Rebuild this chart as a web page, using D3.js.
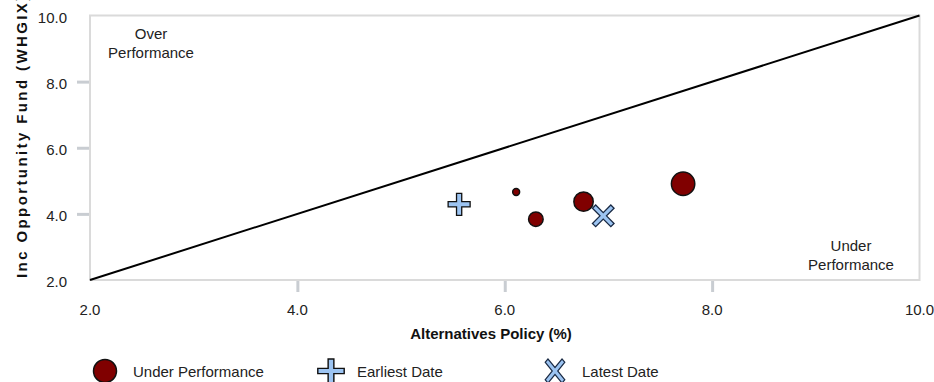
<!DOCTYPE html>
<html><head><meta charset="utf-8">
<script src="https://cdn.jsdelivr.net/npm/d3@7"></script>
<style>
html,body{margin:0;padding:0;background:#fff;}
svg{display:block;font-family:"Liberation Sans",Arial,sans-serif;}
</style></head>
<body><svg id="c" width="934" height="382"></svg>
<script>
const underX = [6.11, 6.30, 6.76, 7.72];
const underY = [4.66, 3.84, 4.37, 4.91];
const underSize = [12, 53, 94, 137];
const earliest = [5.56, 4.29];
const latest = [6.95, 3.94];
const xTicks = [2, 4, 6, 8, 10];
const yTicks = [2, 4, 6, 8, 10];
const xTitle = "Alternatives Policy (%)";
const yTitle = "Inc Opportunity Fund (WHGIX)";
const legendLabels = ["Under Performance", "Earliest Date", "Latest Date"];

const svg = d3.select("#c");
const x = d3.scaleLinear().domain([2, 10]).range([90, 919.5]);
const y = d3.scaleLinear().domain([2, 10]).range([280, 15.5]);
const r = d3.scaleSqrt().domain([0, 137]).range([0, 11.7]);
const FS = 15;

// plot frame
svg.append("rect").attr("x", 90).attr("y", 15.5).attr("width", 829.5).attr("height", 264.5)
  .attr("fill", "none").attr("stroke", "#dadada").attr("stroke-width", 2);

// axes
const fmt = d3.format(".1f");
const xa = svg.append("g").attr("transform", "translate(0,281)")
  .call(d3.axisBottom(x).tickValues(xTicks.slice(1, 4)).tickSize(11).tickFormat(""));
xa.select(".domain").remove();
xa.selectAll("line").attr("stroke", "#c9cdd2").attr("stroke-width", 3);
svg.append("g").selectAll("text").data(xTicks).join("text")
  .attr("x", d => x(d)).attr("y", 314.5).attr("text-anchor", "middle")
  .attr("font-size", FS).attr("fill", "#222").text(d => fmt(d));

const ya = svg.append("g").attr("transform", "translate(89,0)")
  .call(d3.axisLeft(y).tickValues(yTicks.slice(1, 4)).tickSize(12).tickFormat(""));
ya.select(".domain").remove();
ya.selectAll("line").attr("stroke", "#c9cdd2").attr("stroke-width", 3);
svg.append("g").selectAll("text").data(yTicks).join("text")
  .attr("x", 67).attr("y", d => y(d) + 7).attr("text-anchor", "end")
  .attr("font-size", FS).attr("fill", "#222").text(d => fmt(d));

// axis titles
svg.append("text").attr("x", 491).attr("y", 338.5).attr("text-anchor", "middle")
  .attr("font-size", FS).attr("font-weight", "bold").attr("fill", "#111").text(xTitle);
svg.append("text").attr("transform", "translate(27,278) rotate(-90)")
  .attr("text-anchor", "start").attr("font-size", FS).attr("font-weight", "bold")
  .attr("letter-spacing", 2.4).attr("fill", "#111").text(yTitle);

// diagonal
svg.append("line").attr("x1", x(2)).attr("y1", y(2)).attr("x2", x(10)).attr("y2", y(10))
  .attr("stroke", "#000").attr("stroke-width", 2);

// region labels
const lab = (tx, ty, lines) => {
  const t = svg.append("text").attr("text-anchor", "middle").attr("font-size", FS).attr("fill", "#222");
  lines.forEach((l, i) => t.append("tspan").attr("x", tx).attr("y", ty + i * 19.5).text(l));
};
lab(151, 38.5, ["Over", "Performance"]);
lab(851, 250.5, ["Under", "Performance"]);

// marker shapes
function crossPath(L, w) {
  return `M${-w},${-L}H${w}V${-w}H${L}V${w}H${w}V${L}H${-w}V${w}H${-L}V${-w}H${-w}Z`;
}
const blue = "#9cc4f2";

// points
svg.append("g").selectAll("circle").data(underX.map((d, i) => ({x: d, y: underY[i], s: underSize[i]})))
  .join("circle").attr("cx", d => x(d.x)).attr("cy", d => y(d.y)).attr("r", d => r(d.s))
  .attr("fill", "#800000").attr("stroke", "#111").attr("stroke-width", 1.5);

svg.append("path").attr("d", crossPath(11, 2.6))
  .attr("transform", `translate(${x(earliest[0])},${y(earliest[1])})`)
  .attr("fill", blue).attr("stroke", "#111").attr("stroke-width", 1.3);
svg.append("path").attr("d", crossPath(13, 2.3))
  .attr("transform", `translate(${x(latest[0])},${y(latest[1])}) rotate(45)`)
  .attr("fill", blue).attr("stroke", "#1a2a44").attr("stroke-width", 1.3);

// legend
const ly = 371;
svg.append("circle").attr("cx", 105).attr("cy", ly).attr("r", 11.5)
  .attr("fill", "#800000").attr("stroke", "#111").attr("stroke-width", 1.5);
svg.append("path").attr("d", crossPath(12, 2.6)).attr("transform", `translate(331,${ly}) scale(1.1,1)`)
  .attr("fill", blue).attr("stroke", "#111").attr("stroke-width", 1.3);
svg.append("path").attr("d", crossPath(14, 2.3)).attr("transform", `translate(555,${ly}) scale(0.85,1.05) rotate(45)`)
  .attr("fill", blue).attr("stroke", "#1a2a44").attr("stroke-width", 1.3);
const lx = [133, 357, 582];
svg.append("g").selectAll("text").data(legendLabels).join("text")
  .attr("x", (d, i) => lx[i]).attr("y", ly + 5.5).attr("font-size", FS).attr("fill", "#222").text(d => d);
</script></body></html>
